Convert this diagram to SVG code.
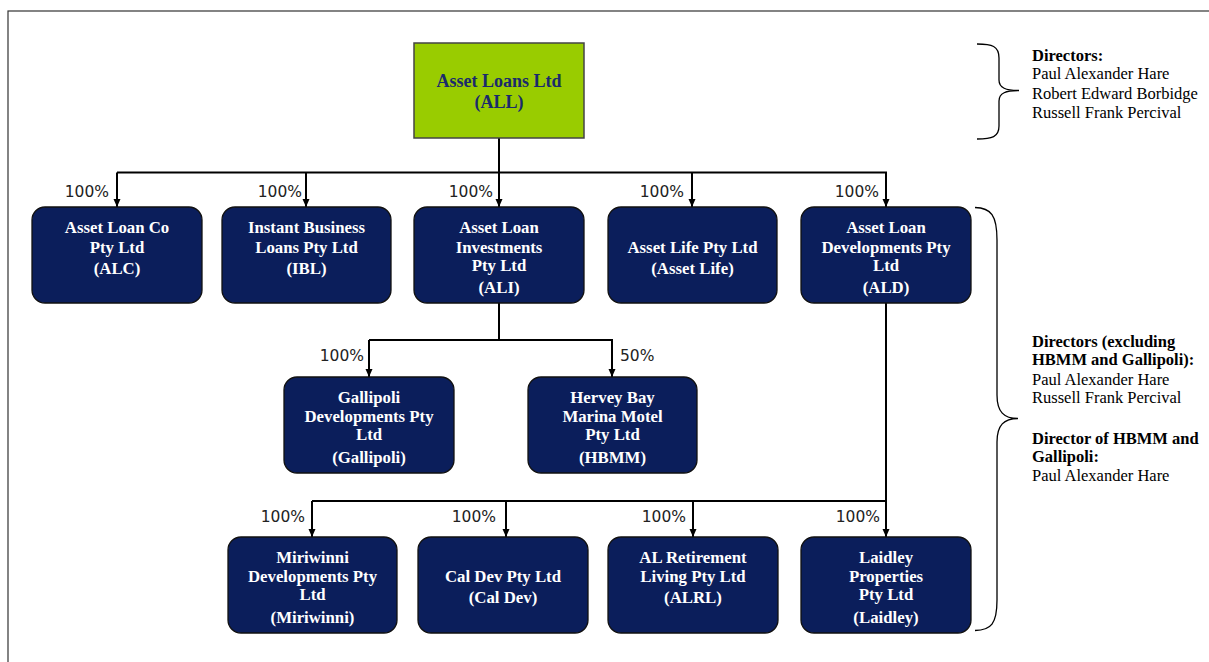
<svg xmlns="http://www.w3.org/2000/svg" width="1209" height="662" viewBox="0 0 1209 662">
<style>
.frame{fill:none;stroke:#333;stroke-width:1.2}
.node{fill:#0b1e5b;stroke:#111;stroke-width:1.3}
.top{fill:#99cc00;stroke:#444;stroke-width:1.5}
.nt{font-family:"Liberation Serif",serif;font-weight:bold;font-size:16.8px;fill:#fff;text-anchor:middle}
.tt{font-family:"Liberation Serif",serif;font-weight:bold;font-size:18px;fill:#1a2a6c;text-anchor:middle}
.conn{fill:none;stroke:#000;stroke-width:2}
.pct{font-family:"DejaVu Sans",sans-serif;font-size:15.5px;fill:#222;text-anchor:end}
.brace{fill:none;stroke:#000;stroke-width:1.3}
.dh{font-family:"Liberation Serif",serif;font-weight:bold;font-size:16.5px;fill:#000}
.dn{font-family:"Liberation Serif",serif;font-size:16.5px;fill:#000}
</style>
<defs>
<marker id="ah" markerUnits="userSpaceOnUse" markerWidth="8" markerHeight="9" viewBox="0 0 8 9" refX="8" refY="4" orient="auto">
<path d="M0,0.5 L8,4 L0,7.5 Z" fill="#000"/>
</marker>
</defs>
<rect class="frame" x="8" y="11" width="1220" height="680"/>

<g id="connectors">
<path class="conn" d="M499,138 V172.5"/>
<path class="conn" d="M117,172.5 H886 V207" marker-end="url(#ah)"/>
<path class="conn" d="M117,172.5 V207" marker-end="url(#ah)"/>
<path class="conn" d="M306,172.5 V207" marker-end="url(#ah)"/>
<path class="conn" d="M499,172.5 V207" marker-end="url(#ah)"/>
<path class="conn" d="M692,172.5 V207" marker-end="url(#ah)"/>
<path class="conn" d="M499,303 V340"/>
<path class="conn" d="M369,340 H612 V377" marker-end="url(#ah)"/>
<path class="conn" d="M369,340 V377" marker-end="url(#ah)"/>
<path class="conn" d="M886,303 V537" marker-end="url(#ah)"/>
<path class="conn" d="M312,501 H886"/>
<path class="conn" d="M312,501 V537" marker-end="url(#ah)"/>
<path class="conn" d="M506,501 V537" marker-end="url(#ah)"/>
<path class="conn" d="M693,501 V537" marker-end="url(#ah)"/>
<text class="pct" x="109" y="197">100%</text>
<text class="pct" x="302" y="197">100%</text>
<text class="pct" x="493" y="197">100%</text>
<text class="pct" x="684" y="197">100%</text>
<text class="pct" x="879" y="197">100%</text>
<text class="pct" x="364" y="361">100%</text>
<text class="pct" x="620" y="361" style="text-anchor:start">50%</text>
<text class="pct" x="305" y="522">100%</text>
<text class="pct" x="496" y="522">100%</text>
<text class="pct" x="686" y="522">100%</text>
<text class="pct" x="880" y="522">100%</text>
</g>

<g id="ALL">
<rect class="top" x="414" y="43" width="170" height="95"/>
<text class="tt" x="499" y="87">Asset Loans Ltd</text>
<text class="tt" x="499" y="108">(ALL)</text>
</g>

<g id="ALC">
<rect class="node" x="32" y="207" width="170" height="96" rx="13"/>
<text class="nt" x="117" y="233">Asset Loan Co</text>
<text class="nt" x="117" y="253">Pty Ltd</text>
<text class="nt" x="117" y="274">(ALC)</text>
</g>
<g id="IBL">
<rect class="node" x="222" y="207" width="169" height="96" rx="13"/>
<text class="nt" x="306.5" y="233">Instant Business</text>
<text class="nt" x="306.5" y="253">Loans Pty Ltd</text>
<text class="nt" x="306.5" y="274">(IBL)</text>
</g>
<g id="ALI">
<rect class="node" x="414" y="207" width="170" height="96" rx="13"/>
<text class="nt" x="499" y="233">Asset Loan</text>
<text class="nt" x="499" y="253">Investments</text>
<text class="nt" x="499" y="271">Pty Ltd</text>
<text class="nt" x="499" y="293">(ALI)</text>
</g>
<g id="AssetLife">
<rect class="node" x="608" y="207" width="169" height="96" rx="13"/>
<text class="nt" x="692.5" y="253">Asset Life Pty Ltd</text>
<text class="nt" x="692.5" y="274">(Asset Life)</text>
</g>
<g id="ALD">
<rect class="node" x="801" y="207" width="170" height="96" rx="13"/>
<text class="nt" x="886" y="233">Asset Loan</text>
<text class="nt" x="886" y="253">Developments Pty</text>
<text class="nt" x="886" y="271">Ltd</text>
<text class="nt" x="886" y="293">(ALD)</text>
</g>

<g id="Gallipoli">
<rect class="node" x="284" y="377" width="170" height="96" rx="13"/>
<text class="nt" x="369" y="403">Gallipoli</text>
<text class="nt" x="369" y="422">Developments Pty</text>
<text class="nt" x="369" y="440">Ltd</text>
<text class="nt" x="369" y="463">(Gallipoli)</text>
</g>
<g id="HBMM">
<rect class="node" x="528" y="377" width="169" height="96" rx="13"/>
<text class="nt" x="612.5" y="403">Hervey Bay</text>
<text class="nt" x="612.5" y="422">Marina Motel</text>
<text class="nt" x="612.5" y="440">Pty Ltd</text>
<text class="nt" x="612.5" y="463">(HBMM)</text>
</g>

<g id="Miriwinni">
<rect class="node" x="228" y="537" width="169" height="96" rx="13"/>
<text class="nt" x="312.5" y="563">Miriwinni</text>
<text class="nt" x="312.5" y="582">Developments Pty</text>
<text class="nt" x="312.5" y="600">Ltd</text>
<text class="nt" x="312.5" y="623">(Miriwinni)</text>
</g>
<g id="CalDev">
<rect class="node" x="418" y="537" width="170" height="96" rx="13"/>
<text class="nt" x="503" y="582">Cal Dev Pty Ltd</text>
<text class="nt" x="503" y="603">(Cal Dev)</text>
</g>
<g id="ALRL">
<rect class="node" x="608" y="537" width="170" height="96" rx="13"/>
<text class="nt" x="693" y="563">AL Retirement</text>
<text class="nt" x="693" y="582">Living Pty Ltd</text>
<text class="nt" x="693" y="603">(ALRL)</text>
</g>
<g id="Laidley">
<rect class="node" x="801" y="537" width="170" height="96" rx="13"/>
<text class="nt" x="886" y="563">Laidley</text>
<text class="nt" x="886" y="582">Properties</text>
<text class="nt" x="886" y="600">Pty Ltd</text>
<text class="nt" x="886" y="623">(Laidley)</text>
</g>

<g id="directors-top">
<path class="brace" d="M977,44 C992,44 999,46 999,58 V80 C999,88 1006,90.5 1019,90.5 C1006,90.5 999,93 999,101 V126 C999,137 992,139 977,139"/>
<text class="dh" x="1032" y="61">Directors:</text>
<text class="dn" x="1032" y="79">Paul Alexander Hare</text>
<text class="dn" x="1032" y="99">Robert Edward Borbidge</text>
<text class="dn" x="1032" y="118">Russell Frank Percival</text>
</g>

<g id="directors-sub">
<path class="brace" d="M975,207.5 C991,208 997,215 997,240 V395 C997,412 1004,418.5 1018,418.5 C1004,418.5 997,425 997,442 V600 C997,624 991,630 975,630.5"/>
<text class="dh" x="1032" y="347">Directors (excluding</text>
<text class="dh" x="1032" y="365">HBMM and Gallipoli):</text>
<text class="dn" x="1032" y="385">Paul Alexander Hare</text>
<text class="dn" x="1032" y="403">Russell Frank Percival</text>
<text class="dh" x="1032" y="444">Director of HBMM and</text>
<text class="dh" x="1032" y="462">Gallipoli:</text>
<text class="dn" x="1032" y="481">Paul Alexander Hare</text>
</g>
</svg>
